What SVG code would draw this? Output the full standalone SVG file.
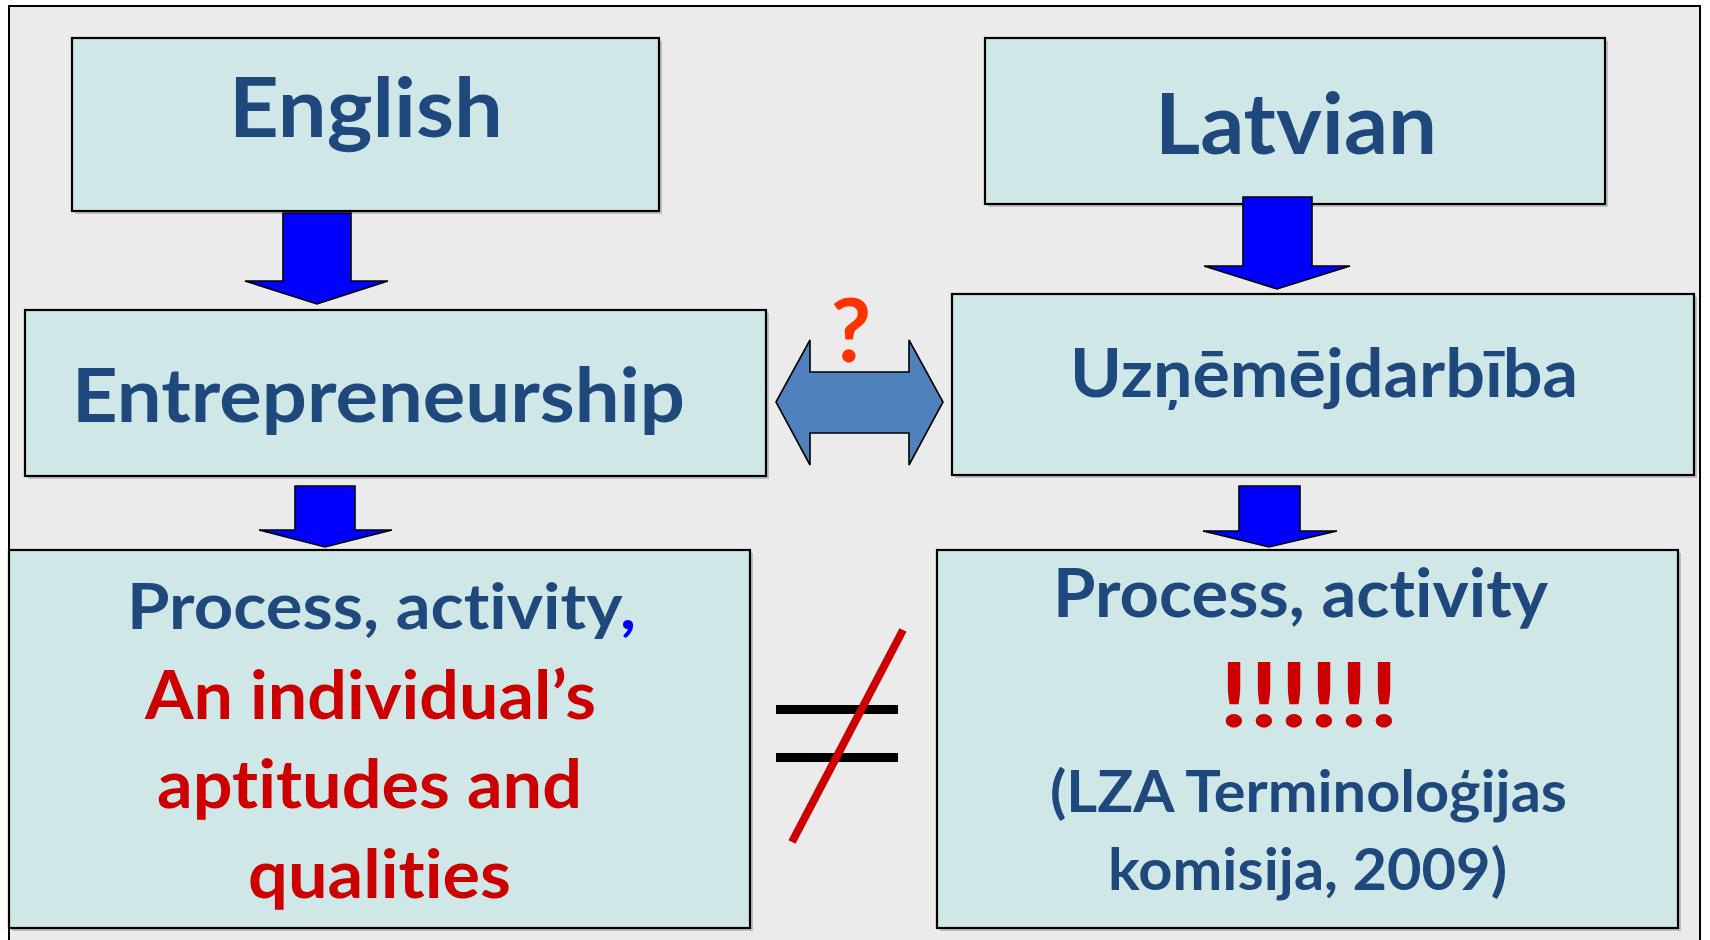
<svg xmlns="http://www.w3.org/2000/svg" width="1710" height="940" viewBox="0 0 1710 940">
  <defs>
    <style>
      .box { fill: #D0E7E8; stroke: #000000; stroke-width: 2.2; }
      .shadow { fill: #9A9A9A; opacity: 0.55; }
      .down { fill: #0000FF; stroke: #000000; stroke-width: 1.6; stroke-linejoin: miter; }
      .t { font-family: Lato, "Open Sans", "Liberation Sans", sans-serif; font-weight: 700; font-variant-ligatures: none; font-feature-settings: "liga" 0, "clig" 0; }
      .blue { fill: #1F497D; }
      .red { fill: #CC0000; }
    </style>
  </defs>

  <!-- slide frame -->
  <rect x="9" y="6" width="1691" height="950" fill="#EBEBEB" stroke="#000000" stroke-width="2"/>

  <!-- English -->
  <g id="node-english">
    <rect class="shadow" x="75" y="41" width="587" height="173"/>
    <rect class="box" x="72" y="38" width="587" height="173"/>
    <text class="t blue" x="229" y="137" font-size="82" textLength="274" lengthAdjust="spacingAndGlyphs">English</text>
  </g>

  <!-- Latvian -->
  <g id="node-latvian">
    <rect class="shadow" x="988" y="41" width="620" height="166"/>
    <rect class="box" x="985" y="38" width="620" height="166"/>
    <text class="t blue" x="1155" y="154" font-size="85" textLength="282" lengthAdjust="spacingAndGlyphs">Latvian</text>
  </g>

  <!-- Entrepreneurship -->
  <g id="node-entrepreneurship">
    <rect class="shadow" x="28" y="313" width="741" height="166"/>
    <rect class="box" x="25" y="310" width="741" height="166"/>
    <text class="t blue" x="72" y="422" font-size="75" textLength="613" lengthAdjust="spacingAndGlyphs">Entrepreneurship</text>
  </g>

  <!-- Uzņēmējdarbība -->
  <g id="node-uznemejdarbiba">
    <rect class="shadow" x="955" y="297" width="742" height="181"/>
    <rect class="box" x="952" y="294" width="742" height="181"/>
    <text class="t blue" x="1070" y="397" font-size="66" textLength="508" lengthAdjust="spacingAndGlyphs">Uzņēmējdarbība</text>
  </g>

  <!-- English meaning -->
  <g id="node-meaning-en">
    <rect class="shadow" x="12" y="553" width="741" height="378"/>
    <rect class="box" x="9" y="550" width="741" height="378"/>
    <text class="t blue" x="127" y="629" font-size="64" textLength="509" lengthAdjust="spacingAndGlyphs">Process, activity<tspan fill="#0000FF">,</tspan></text>
    <text class="t red" x="145" y="719" font-size="66" textLength="451" lengthAdjust="spacingAndGlyphs">An individual’s</text>
    <text class="t red" x="157" y="808" font-size="66" textLength="425" lengthAdjust="spacingAndGlyphs">aptitudes and</text>
    <text class="t red" x="248" y="898" font-size="66" textLength="263" lengthAdjust="spacingAndGlyphs">qualities</text>
  </g>

  <!-- Latvian meaning -->
  <g id="node-meaning-lv">
    <rect class="shadow" x="940" y="553" width="741" height="378"/>
    <rect class="box" x="937" y="550" width="741" height="378"/>
    <text class="t blue" x="1053" y="617" font-size="66" textLength="495" lengthAdjust="spacingAndGlyphs">Process, activity</text>
    <text class="t red" x="1219" y="727" font-size="89" textLength="180" lengthAdjust="spacingAndGlyphs">!!!!!!</text>
    <text class="t blue" x="1050" y="812" font-size="57" textLength="517" lengthAdjust="spacingAndGlyphs">(LZA Terminoloģijas</text>
    <text class="t blue" x="1108" y="890" font-size="57" textLength="399" lengthAdjust="spacingAndGlyphs">komisija, 2009)</text>
  </g>

  <!-- connectors -->
  <g id="connectors">
    <path class="down" d="M283,213 H351 V281 H388 L317,304 L245,281 H283 Z"/>
    <path class="down" d="M1243,197 H1312 V266 H1350 L1277,289 L1204,266 H1243 Z"/>
    <path class="down" d="M295,486 H355 V530 H392 L325,547 L259,530 H295 Z"/>
    <path class="down" d="M1239,486 H1300 V531 H1337 L1269,547 L1203,531 H1239 Z"/>
    <path d="M776,402 L810,340 V372 H909 V340 L943,402 L909,465 V433 H810 V465 Z" fill="#4F81BD" stroke="#000000" stroke-width="1.6"/>
    <text class="t" x="851" y="362" font-size="88" text-anchor="middle" fill="#FF3300">?</text>
  </g>

  <!-- not-equal sign -->
  <g id="not-equal">
    <rect x="776" y="705" width="122" height="9" fill="#000000"/>
    <rect x="776" y="753" width="122" height="9" fill="#000000"/>
    <line x1="903" y1="630" x2="792" y2="842" stroke="#CC0000" stroke-width="8"/>
  </g>
</svg>
